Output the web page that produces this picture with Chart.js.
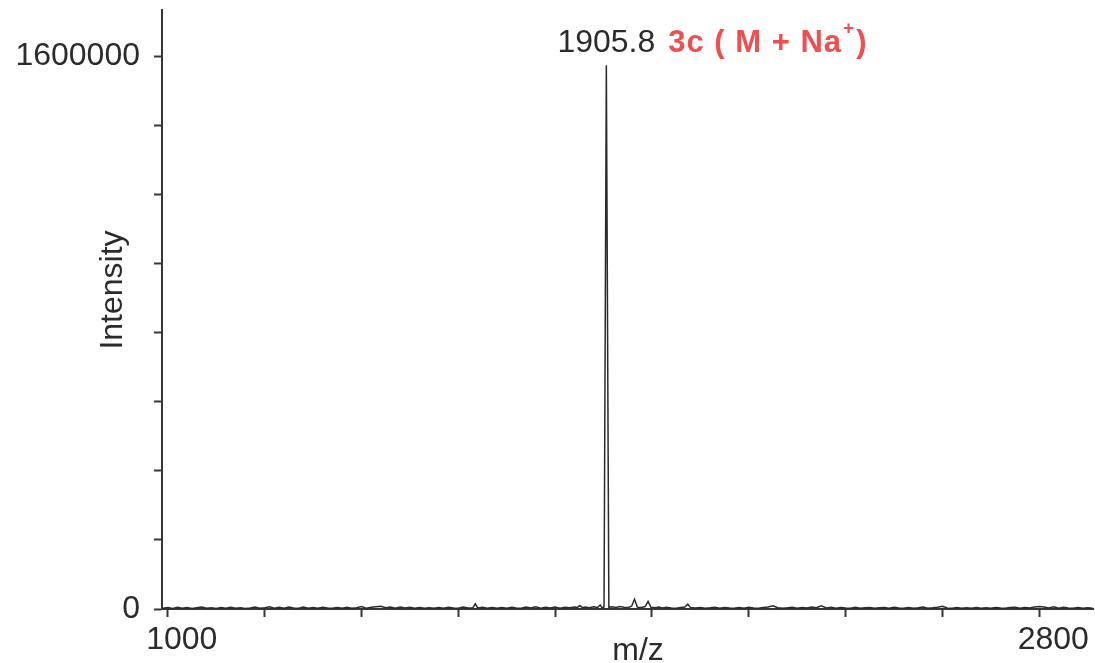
<!DOCTYPE html>
<html>
<head>
<meta charset="utf-8">
<title>MALDI spectrum 3c</title>
<script src="https://cdn.jsdelivr.net/npm/chart.js@4.4.1/dist/chart.umd.min.js"></script>
<style>
  html, body { margin: 0; padding: 0; background: #fff; }
  #wrap { width: 1095px; height: 663px; position: relative; }
</style>
</head>
<body>
<div id="wrap"><canvas id="spectrum"></canvas></div>
<script>
// m/z positions of the recorded spectrum
const mzValues = [
  990, 1000, 1010, 1020, 1030, 1040, 1050, 1060, 1070, 1080,
  1090, 1100, 1110, 1120, 1130, 1140, 1150, 1160, 1170, 1180,
  1190, 1200, 1210, 1220, 1230, 1240, 1250, 1260, 1270, 1280,
  1290, 1300, 1310, 1320, 1330, 1340, 1350, 1360, 1370, 1380,
  1390, 1400, 1410, 1420, 1430, 1440, 1450, 1460, 1470, 1480,
  1490, 1500, 1510, 1520, 1530, 1540, 1550, 1560, 1570, 1580,
  1590, 1600, 1610, 1620, 1630, 1635, 1640, 1650, 1660, 1670,
  1680, 1690, 1700, 1710, 1720, 1730, 1740, 1750, 1760, 1770,
  1780, 1790, 1800, 1810, 1820, 1830, 1840, 1846, 1851, 1856,
  1862, 1870, 1880, 1888, 1893, 1897, 1901, 1905.8, 1911, 1918,
  1926, 1934, 1942, 1950, 1958, 1964, 1970, 1978, 1986, 1992,
  1998, 2006, 2014, 2022, 2030, 2040, 2050, 2060, 2068, 2074,
  2080, 2090, 2100, 2110, 2120, 2130, 2140, 2150, 2160, 2170,
  2180, 2190, 2200, 2210, 2220, 2230, 2240, 2250, 2260, 2270,
  2280, 2290, 2300, 2310, 2320, 2330, 2340, 2350, 2360, 2370,
  2380, 2390, 2400, 2410, 2420, 2430, 2440, 2450, 2460, 2470,
  2480, 2490, 2500, 2510, 2520, 2530, 2540, 2550, 2560, 2570,
  2580, 2590, 2600, 2610, 2620, 2630, 2640, 2650, 2660, 2670,
  2680, 2690, 2700, 2710, 2720, 2730, 2740, 2750, 2760, 2770,
  2780, 2790, 2800, 2810, 2820, 2830, 2840, 2850, 2860, 2870,
  2880, 2890, 2900, 2910
];

// intensity at each m/z position
const intensities = [
  2500, 4500, 1500, 5000, 2000, 4500, 1500, 3500, 5500, 2000,
  3500, 1500, 4500, 2500, 5000, 2000, 3500, 1500, 3000, 5500,
  2000, 3500, 6500, 2500, 5000, 2000, 6000, 3000, 2000, 5500,
  2500, 4500, 2000, 5000, 3000, 2000, 4500, 2500, 5000, 2000,
  3500, 7000, 2500, 5000, 6500, 8000, 3500, 6000, 2500, 5500,
  3000, 5000, 2500, 4500, 2000, 3500, 2000, 4500, 2500, 5000,
  3000, 2500, 5500, 3000, 3000, 15000, 3000, 5000, 2500, 4500,
  2000, 4500, 2500, 5000, 3000, 2000, 5500, 3000, 6500, 2500,
  5000, 3000, 6000, 2500, 5000, 3500, 6000, 4500, 10000, 4000,
  6000, 3500, 6500, 4500, 12000, 3500, 6000, 1575000, 5000, 6500,
  4500, 7000, 5000, 4000, 8000, 28000, 5000, 4500, 7000, 22000,
  5000, 3500, 5500, 3000, 5000, 3000, 2500, 4500, 6000, 14000,
  4000, 3000, 4500, 2500, 3500, 5000, 2500, 4500, 3000, 2000,
  4500, 2500, 5000, 3000, 2500, 4500, 5500, 9000, 3500, 2500,
  3500, 5000, 2500, 4500, 3000, 5500, 3500, 9500, 3000, 5000,
  2500, 4500, 3000, 2000, 5000, 2500, 3500, 4500, 2000, 3500,
  4500, 2500, 5000, 3000, 2000, 4500, 2500, 3500, 5500, 2500,
  3500, 5000, 8000, 3000, 2500, 4500, 2000, 3500, 2500, 4500,
  2000, 3500, 2500, 4500, 3000, 2000, 4500, 5000, 2500, 4500,
  3000, 5500, 7000, 6000, 3000, 6500, 2500, 5000, 3000, 2500,
  4500, 2000, 3500, 2500
];

const xTickValues = [1000, 1200, 1400, 1600, 1800, 2000, 2200, 2400, 2600, 2800];
const xLabelValues = [1000, 2800];
const yTickValues = [0, 200000, 400000, 600000, 800000, 1000000, 1200000, 1400000, 1600000];
const yLabelValues = [0, 1600000];

const peakMz = 1905.8;
const peakName = "3c ( M + Na";
const peakCharge = "+";
const xTitle = "m/z";
const yTitle = "Intensity";

const axisColor = "#3a3435";
const textColor = "#2b2b2b";
const noteColor = "#ee4f4f";
const fontFamily = '"Liberation Sans", Arial, Helvetica, sans-serif';

const points = mzValues.map((mz, i) => ({ x: mz, y: intensities[i] }));

// axis titles and the peak annotation
const textPlugin = {
  id: "spectrumText",
  afterDraw(chart) {
    const ctx = chart.ctx;
    const area = chart.chartArea;
    const px = chart.scales.x.getPixelForValue(peakMz);
    ctx.save();
    ctx.fillStyle = textColor;
    ctx.font = "32px " + fontFamily;
    ctx.textBaseline = "alphabetic";

    ctx.textAlign = "center";
    ctx.fillText(xTitle, 638, 660);

    ctx.save();
    ctx.translate(122, 290);
    ctx.rotate(-Math.PI / 2);
    ctx.fillText(yTitle, 0, 0);
    ctx.restore();

    // m/z value over the peak
    const base = area.top + 42;
    ctx.fillText(String(peakMz), px, base);
    const valueRight = px + ctx.measureText(String(peakMz)).width / 2;

    // species label in red
    ctx.fillStyle = noteColor;
    ctx.textAlign = "left";
    ctx.letterSpacing = "1px";
    ctx.font = "bold 31px " + fontFamily;
    let cx = valueRight + 13;
    ctx.fillText(peakName, cx, base);
    cx += ctx.measureText(peakName).width + 1;
    ctx.font = "bold 19px " + fontFamily;
    ctx.fillText(peakCharge, cx, base - 18);
    cx += ctx.measureText(peakCharge).width + 1;
    ctx.font = "bold 31px " + fontFamily;
    ctx.fillText(")", cx, base);
    ctx.restore();
  }
};

new Chart(document.getElementById("spectrum"), {
  type: "line",
  data: {
    datasets: [{
      data: points,
      borderColor: "#2e2a2b",
      borderWidth: 1.5,
      pointRadius: 0,
      tension: 0,
      fill: false
    }]
  },
  options: {
    responsive: true,
    maintainAspectRatio: false,
    animation: false,
    layout: { padding: { top: 10, right: 2, left: 0, bottom: 0 } },
    plugins: {
      legend: { display: false },
      tooltip: { enabled: false }
    },
    scales: {
      x: {
        type: "linear",
        min: 988,
        max: 2911,
        afterBuildTicks: (scale) => {
          scale.ticks = xTickValues.map(v => ({ value: v }));
        },
        afterFit: (scale) => {
          scale.height = 54;
          scale.paddingLeft = 0;
          scale.paddingRight = 0;
        },
        ticks: {
          color: textColor,
          font: { family: fontFamily, size: 32 },
          padding: 4,
          labelOffset: 14,
          maxRotation: 0,
          autoSkip: false,
          callback: (v) => xLabelValues.includes(v) ? String(v) : ""
        },
        grid: {
          drawOnChartArea: false,
          drawTicks: true,
          tickLength: 8,
          tickColor: axisColor,
          tickWidth: 2
        },
        border: { display: true, color: axisColor, width: 2 }
      },
      y: {
        min: 0,
        max: 1735000,
        afterBuildTicks: (scale) => {
          scale.ticks = yTickValues.map(v => ({ value: v }));
        },
        afterFit: (scale) => {
          scale.width = 162;
          scale.paddingTop = 0;
          scale.paddingBottom = 0;
        },
        ticks: {
          color: textColor,
          font: { family: fontFamily, size: 32 },
          padding: 14,
          autoSkip: false,
          callback: (v) => yLabelValues.includes(v) ? String(v) : ""
        },
        grid: {
          drawOnChartArea: false,
          drawTicks: true,
          tickLength: 8,
          tickColor: axisColor,
          tickWidth: 2
        },
        border: { display: true, color: axisColor, width: 2 }
      }
    }
  },
  plugins: [textPlugin]
});
</script>
</body>
</html>
